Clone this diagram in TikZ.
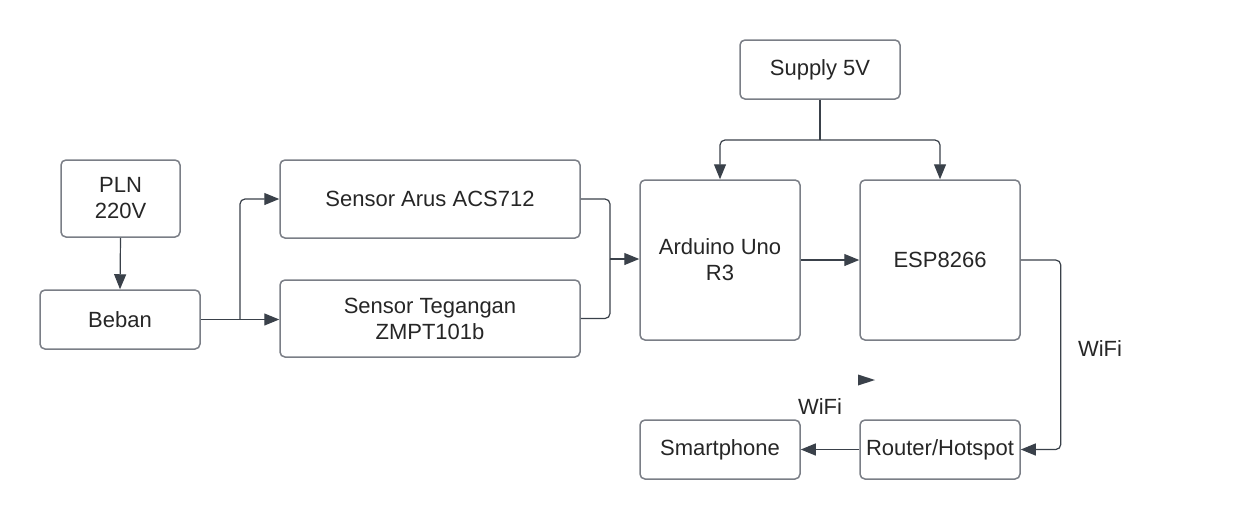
\documentclass[tikz,border=0pt]{standalone}
\usepackage{fontspec}
\setmainfont{Liberation Sans}
\usetikzlibrary{arrows.meta}
\definecolor{boxline}{HTML}{7A7E86}
\definecolor{arrowc}{HTML}{3A414A}
\tikzset{
  blk/.style={draw=boxline, line width=1.5pt, rounded corners=5pt, inner sep=0pt, align=center, font=\fontsize{22}{26}\selectfont, text=black!85},
  conn/.style={draw=arrowc, line width=1.2pt, rounded corners=5pt, -{Triangle[length=15pt,width=12pt]}},
  plain/.style={draw=arrowc, line width=1.2pt, rounded corners=5pt},
  lbl/.style={font=\fontsize{22}{26}\selectfont, text=black!85, inner sep=0pt}
}
\begin{document}
\begin{tikzpicture}[x=1pt,y=-1pt]
\useasboundingbox (0,0) rectangle (1260,520);
\node[blk, minimum width=119pt, minimum height=77pt] (pln) at (120.5,198.5) {PLN\\220V};
\node[blk, minimum width=160pt, minimum height=59pt] (beban) at (120,319.5) {Beban};
\node[blk, minimum width=300pt, minimum height=78pt] (arus) at (430,199) {Sensor Arus ACS712};
\node[blk, minimum width=300pt, minimum height=77pt] (teg) at (430,318.5) {Sensor Tegangan\\ZMPT101b};
\node[blk, minimum width=160pt, minimum height=160pt] (ard) at (720,260) {Arduino Uno\\R3};
\node[blk, minimum width=160pt, minimum height=160pt] (esp) at (940,260) {ESP8266};
\node[blk, minimum width=160pt, minimum height=59pt] (sup) at (820,69.5) {Supply 5V};
\node[blk, minimum width=160pt, minimum height=59pt] (sp) at (720,449.5) {Smartphone};
\node[blk, minimum width=160pt, minimum height=59pt] (rt) at (940,449.5) {Router/Hotspot};
\coordinate (j1) at (240,319.5);
\coordinate (j2) at (610,259);
\coordinate (j3) at (820,140);
\draw[conn] (pln.south) -- (beban.north);
\draw[conn] (beban.east) -- (teg.west |- beban.east);
\draw[conn] (j1) -- (j1 |- arus.west) -- (arus.west);
\draw[plain] (arus.east) -| (j2);
\draw[plain] (teg.east) -| (j2);
\draw[conn] (j2) -- (ard.west |- j2);
\draw[conn] (ard.east) -- (esp.west);
\draw[plain] (sup.south) -- (j3);
\draw[conn] (j3) -| (ard.north);
\draw[conn] (j3) -| (esp.north);
\draw[conn] (esp.east) -- ++(40,0) |- (rt.east);
\draw[conn] (rt.west) -- (sp.east);
\node[lbl] (w1) at (1100,349) {WiFi};
\node[lbl] (w2) at (820,407) {WiFi};
\fill[arrowc] (858,374.5) -- (875,380) -- (858,385.5) -- cycle;
\end{tikzpicture}
\end{document}
